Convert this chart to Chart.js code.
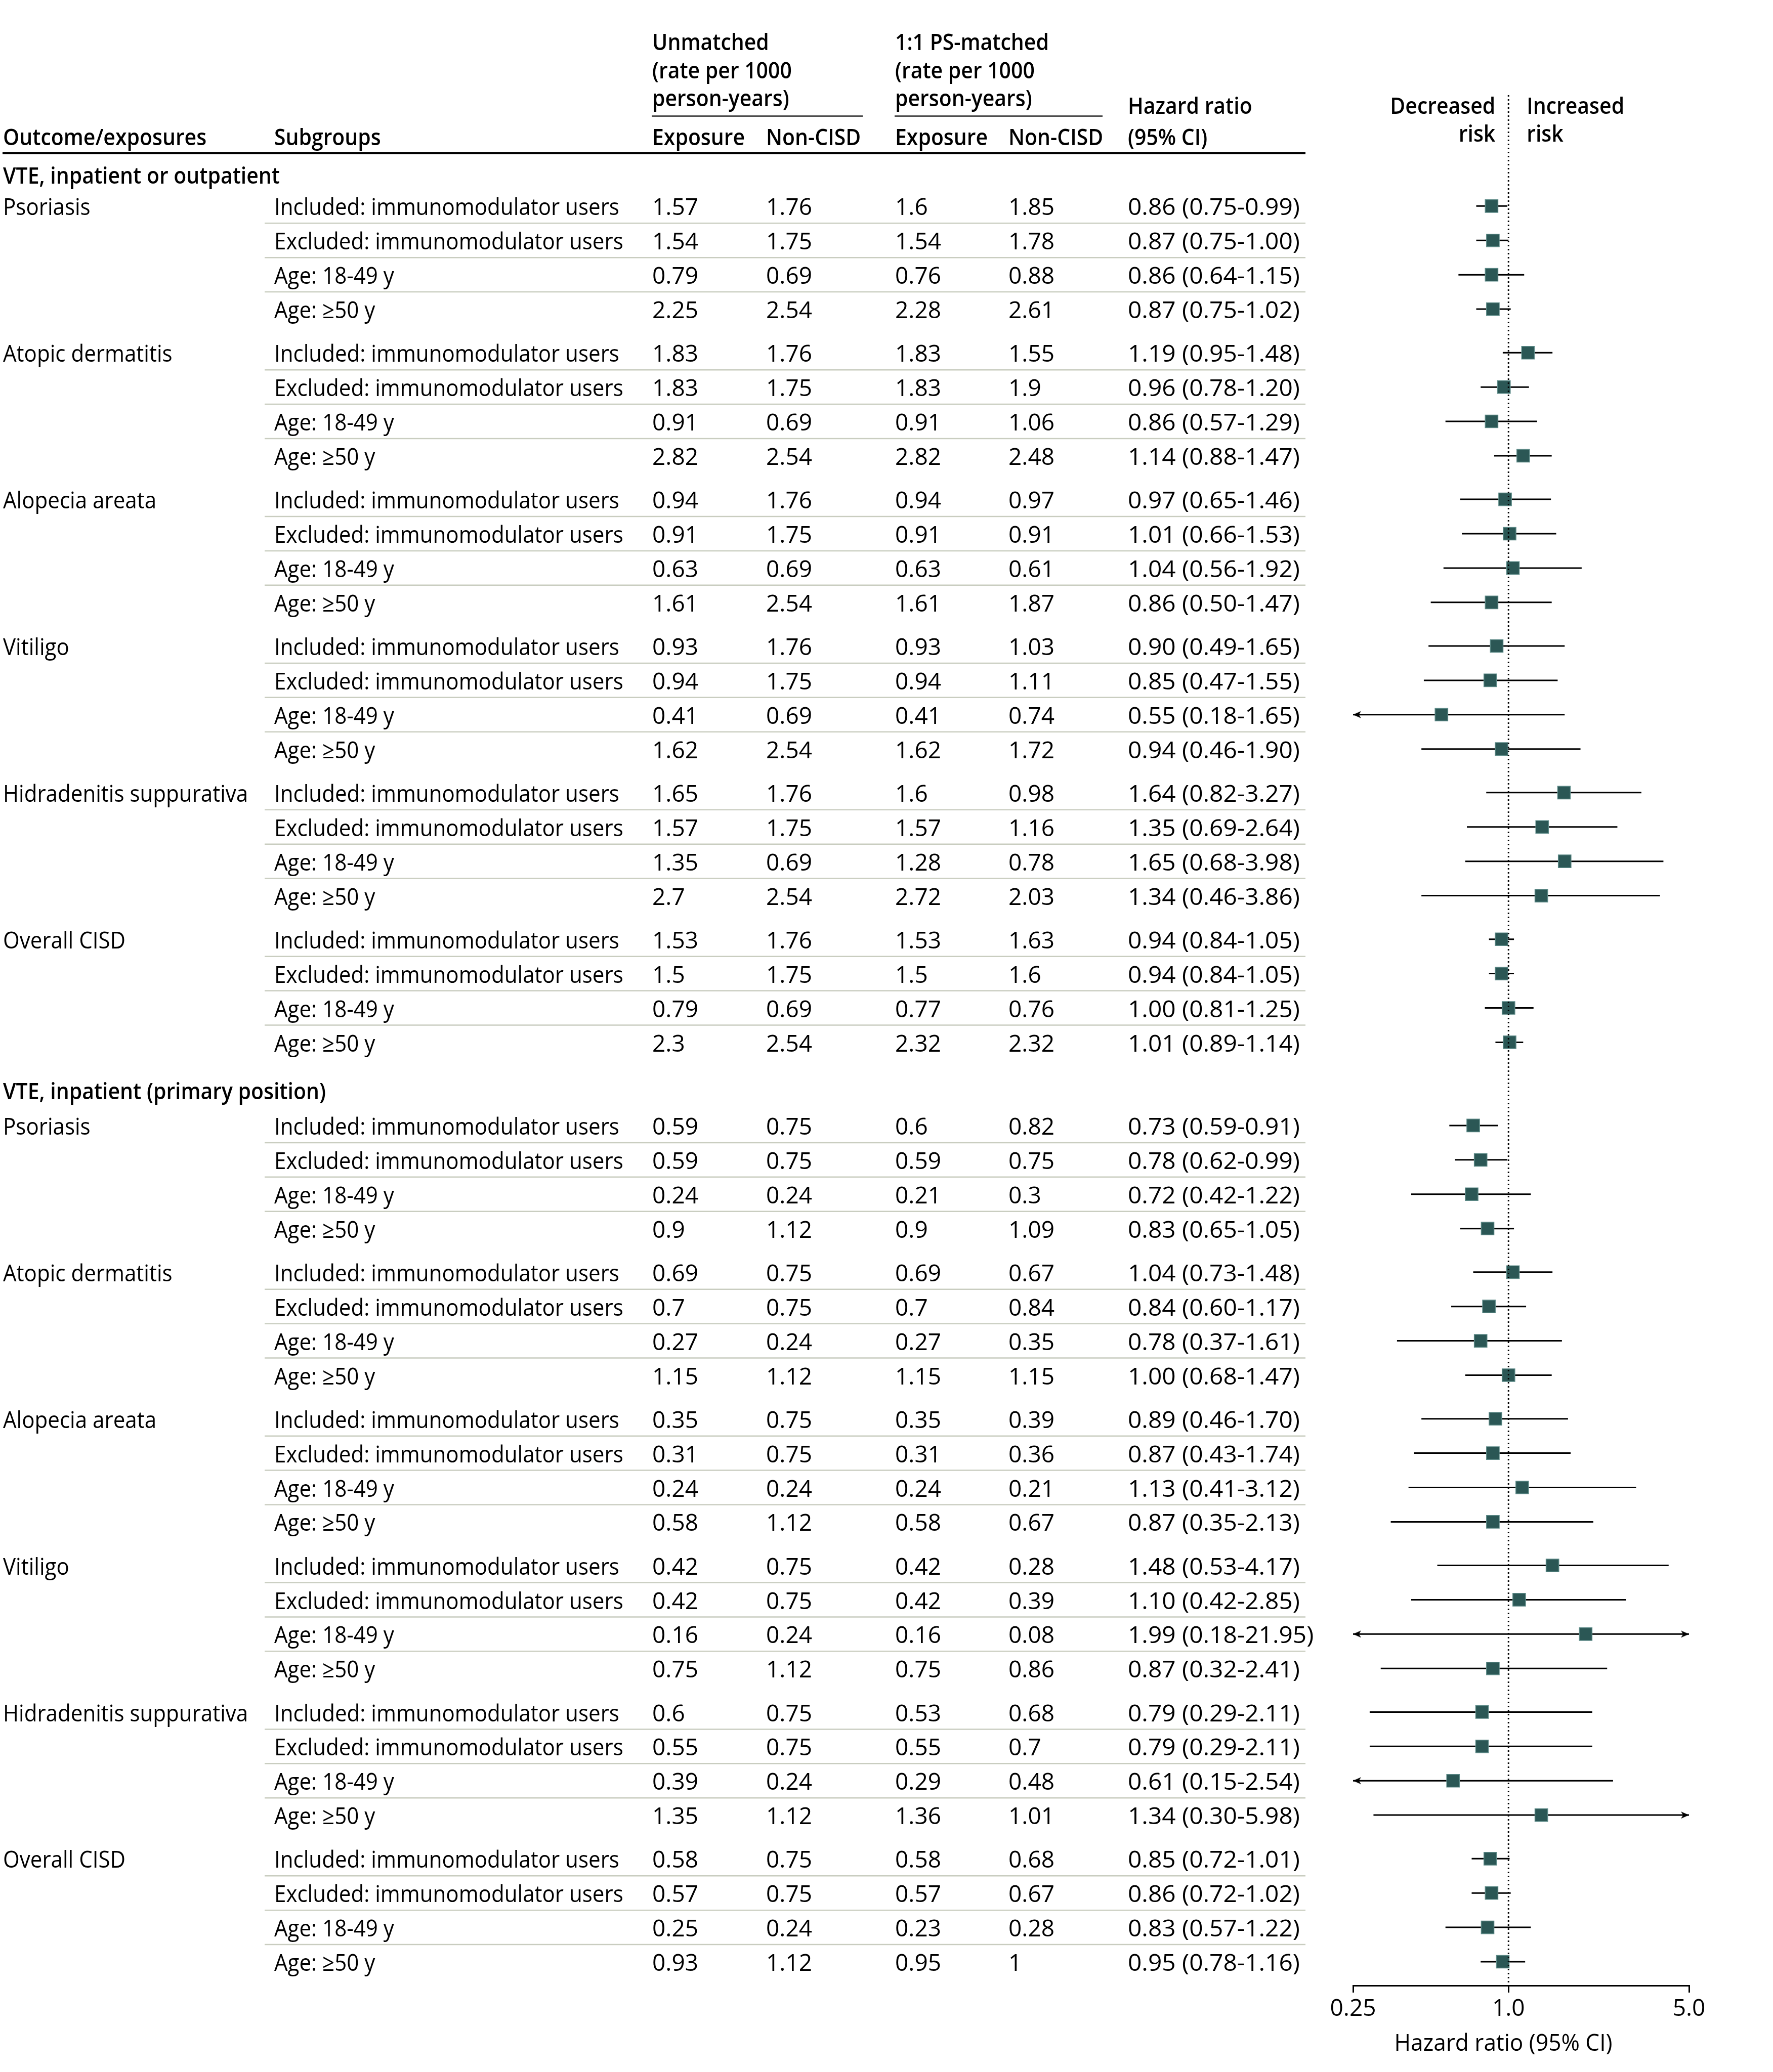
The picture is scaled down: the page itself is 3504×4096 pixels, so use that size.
<!DOCTYPE html>
<html>
<head>
<meta charset="utf-8">
<script src="https://cdn.jsdelivr.net/npm/chart.js@4.4.1/dist/chart.umd.min.js"></script>
<style>
  html, body { margin: 0; padding: 0; background: #fff; }
  canvas { display: block; }
</style>
</head>
<body>
<canvas id="forest" width="3504" height="4096"></canvas>
<script>
// ---- data ----
const sections = ['VTE, inpatient or outpatient', 'VTE, inpatient (primary position)'];
const exposures = ['Psoriasis', 'Atopic dermatitis', 'Alopecia areata', 'Vitiligo', 'Hidradenitis suppurativa', 'Overall CISD'];
const subgroups = ['Included: immunomodulator users', 'Excluded: immunomodulator users', 'Age: 18-49 y', 'Age: ≥50 y'];

// rate per 1000 person-years, 6 exposures x 4 subgroups per section
const unmatchedExposure = [
  1.57, 1.54, 0.79, 2.25,  1.83, 1.83, 0.91, 2.82,  0.94, 0.91, 0.63, 1.61,
  0.93, 0.94, 0.41, 1.62,  1.65, 1.57, 1.35, 2.7,   1.53, 1.5, 0.79, 2.3,
  0.59, 0.59, 0.24, 0.9,   0.69, 0.7, 0.27, 1.15,   0.35, 0.31, 0.24, 0.58,
  0.42, 0.42, 0.16, 0.75,  0.6, 0.55, 0.39, 1.35,   0.58, 0.57, 0.25, 0.93
];
const unmatchedNonCISD = [
  1.76, 1.75, 0.69, 2.54,  1.76, 1.75, 0.69, 2.54,  1.76, 1.75, 0.69, 2.54,
  1.76, 1.75, 0.69, 2.54,  1.76, 1.75, 0.69, 2.54,  1.76, 1.75, 0.69, 2.54,
  0.75, 0.75, 0.24, 1.12,  0.75, 0.75, 0.24, 1.12,  0.75, 0.75, 0.24, 1.12,
  0.75, 0.75, 0.24, 1.12,  0.75, 0.75, 0.24, 1.12,  0.75, 0.75, 0.24, 1.12
];
const matchedExposure = [
  1.6, 1.54, 0.76, 2.28,   1.83, 1.83, 0.91, 2.82,  0.94, 0.91, 0.63, 1.61,
  0.93, 0.94, 0.41, 1.62,  1.6, 1.57, 1.28, 2.72,   1.53, 1.5, 0.77, 2.32,
  0.6, 0.59, 0.21, 0.9,    0.69, 0.7, 0.27, 1.15,   0.35, 0.31, 0.24, 0.58,
  0.42, 0.42, 0.16, 0.75,  0.53, 0.55, 0.29, 1.36,  0.58, 0.57, 0.23, 0.95
];
const matchedNonCISD = [
  1.85, 1.78, 0.88, 2.61,  1.55, 1.9, 1.06, 2.48,   0.97, 0.91, 0.61, 1.87,
  1.03, 1.11, 0.74, 1.72,  0.98, 1.16, 0.78, 2.03,  1.63, 1.6, 0.76, 2.32,
  0.82, 0.75, 0.3, 1.09,   0.67, 0.84, 0.35, 1.15,  0.39, 0.36, 0.21, 0.67,
  0.28, 0.39, 0.08, 0.86,  0.68, 0.7, 0.48, 1.01,   0.68, 0.67, 0.28, 1
];
const hazardRatio = [
  0.86, 0.87, 0.86, 0.87,  1.19, 0.96, 0.86, 1.14,  0.97, 1.01, 1.04, 0.86,
  0.90, 0.85, 0.55, 0.94,  1.64, 1.35, 1.65, 1.34,  0.94, 0.94, 1.00, 1.01,
  0.73, 0.78, 0.72, 0.83,  1.04, 0.84, 0.78, 1.00,  0.89, 0.87, 1.13, 0.87,
  1.48, 1.10, 1.99, 0.87,  0.79, 0.79, 0.61, 1.34,  0.85, 0.86, 0.83, 0.95
];
const ciLow = [
  0.75, 0.75, 0.64, 0.75,  0.95, 0.78, 0.57, 0.88,  0.65, 0.66, 0.56, 0.50,
  0.49, 0.47, 0.18, 0.46,  0.82, 0.69, 0.68, 0.46,  0.84, 0.84, 0.81, 0.89,
  0.59, 0.62, 0.42, 0.65,  0.73, 0.60, 0.37, 0.68,  0.46, 0.43, 0.41, 0.35,
  0.53, 0.42, 0.18, 0.32,  0.29, 0.29, 0.15, 0.30,  0.72, 0.72, 0.57, 0.78
];
const ciHigh = [
  0.99, 1.00, 1.15, 1.02,  1.48, 1.20, 1.29, 1.47,  1.46, 1.53, 1.92, 1.47,
  1.65, 1.55, 1.65, 1.90,  3.27, 2.64, 3.98, 3.86,  1.05, 1.05, 1.25, 1.14,
  0.91, 0.99, 1.22, 1.05,  1.48, 1.17, 1.61, 1.47,  1.70, 1.74, 3.12, 2.13,
  4.17, 2.85, 21.95, 2.41, 2.11, 2.11, 2.54, 5.98,  1.01, 1.02, 1.22, 1.16
];
const tickValues = [0.25, 1, 5];
const tickLabels = ['0.25', '1.0', '5.0'];

// ---- layout ----
const X_MIN = 0.25, X_MAX = 5;
// vertical positions in reference units, measured from the first data row
const ROW_PITCH = 26, GROUP_PITCH = 111, SECTION_PITCH = 696;
const HEAD_OFFSET = [-24, -27];
const Y_MIN = -84, Y_MAX = 1347;

const FONT = '"Open Sans", "Noto Sans", sans-serif';
const REG = '46px ' + FONT;
const BOLD = '600 46px ' + FONT;
// the reference face is narrower for letters than Open Sans
const SX_WORD = 0.915, SX_HEAD = 0.89, SX_NUM = 1.0, SX_HR = 1.04;
const TEXT_DY = 5;
const COL = { outcome: 6, sub: 542, ue: 1289, un: 1514, pe: 1769, pn: 1993, hr: 2229 };

const rows = [];
sections.forEach((sec, s) => {
  exposures.forEach((exp, g) => {
    subgroups.forEach((sub, i) => {
      const k = rows.length;
      rows.push({ s, g, i, exp, sub, k, y: s * SECTION_PITCH + g * GROUP_PITCH + i * ROW_PITCH });
    });
  });
});

// whiskers: one line dataset, broken with null points
const ciPoints = [];
const arrowPoints = [];
rows.forEach(r => {
  ciPoints.push({ x: Math.max(ciLow[r.k], X_MIN), y: r.y });
  ciPoints.push({ x: Math.min(ciHigh[r.k], X_MAX), y: r.y });
  ciPoints.push({ x: null, y: null });
  if (ciLow[r.k] < X_MIN) arrowPoints.push({ x: X_MIN, y: r.y, dir: 'left' });
  if (ciHigh[r.k] > X_MAX) arrowPoints.push({ x: X_MAX, y: r.y, dir: 'right' });
});
const hrPoints = rows.map(r => ({ x: hazardRatio[r.k], y: r.y }));

// arrow head, tip at the centre of the image, pointing right
const arrowImg = document.createElement('canvas');
arrowImg.width = 36; arrowImg.height = 16;
(function () {
  const a = arrowImg.getContext('2d');
  a.fillStyle = '#000';
  a.beginPath();
  a.moveTo(18, 8); a.lineTo(2, 1); a.lineTo(6.5, 8); a.lineTo(2, 15);
  a.closePath(); a.fill();
})();

const tablePlugin = {
  id: 'table',
  afterDraw(chart) {
    const c = chart.ctx;
    const ys = chart.scales.y;
    const py = v => ys.getPixelForValue(v);
    const txt = (t, x, y, font, sx, align) => {
      c.save();
      c.font = font;
      c.textAlign = align || 'left';
      c.translate(x, y + TEXT_DY);
      c.scale(sx, 1);
      c.fillText(t, 0, 0);
      c.restore();
    };
    c.save();
    c.fillStyle = '#000';
    c.textBaseline = 'middle';

    // column headers
    txt('Unmatched', COL.ue, 81, BOLD, SX_HEAD);
    txt('(rate per 1000', COL.ue, 136.5, BOLD, SX_HEAD);
    txt('person-years)', COL.ue, 192, BOLD, SX_HEAD);
    txt('1:1 PS-matched', COL.pe, 81, BOLD, SX_HEAD);
    txt('(rate per 1000', COL.pe, 136.5, BOLD, SX_HEAD);
    txt('person-years)', COL.pe, 192, BOLD, SX_HEAD);
    txt('Outcome/exposures', COL.outcome, 268.5, BOLD, SX_HEAD);
    txt('Subgroups', COL.sub, 268.5, BOLD, SX_HEAD);
    txt('Exposure', COL.ue, 268.5, BOLD, SX_HEAD);
    txt('Non-CISD', COL.un, 268.5, BOLD, SX_HEAD);
    txt('Exposure', COL.pe, 268.5, BOLD, SX_HEAD);
    txt('Non-CISD', COL.pn, 268.5, BOLD, SX_HEAD);
    txt('Hazard ratio', COL.hr, 207, BOLD, SX_HEAD);
    txt('(95% CI)', COL.hr, 268.5, BOLD, SX_HEAD);

    const xs = chart.scales.x;
    const x1 = xs.getPixelForValue(1);
    txt('Decreased', x1 - 26, 207, BOLD, SX_HEAD, 'right');
    txt('risk', x1 - 26, 262, BOLD, SX_HEAD, 'right');
    txt('Increased', x1 + 36, 207, BOLD, SX_HEAD);
    txt('risk', x1 + 36, 262, BOLD, SX_HEAD);

    // rules
    c.strokeStyle = '#222';
    c.lineWidth = 2.5;
    c.beginPath();
    c.moveTo(1288, 229.5); c.lineTo(1705, 229.5);
    c.moveTo(1768, 229.5); c.lineTo(2179, 229.5);
    c.stroke();
    c.strokeStyle = '#000';
    c.lineWidth = 4;
    c.beginPath(); c.moveTo(5, 303); c.lineTo(2580, 303); c.stroke();

    // section headers
    sections.forEach((sec, s) => txt(sec, COL.outcome, py(s * SECTION_PITCH + HEAD_OFFSET[s]), BOLD, SX_HEAD));

    // body rows
    rows.forEach(r => {
      const y = py(r.y);
      if (r.i === 0) txt(r.exp, COL.outcome, y, REG, SX_WORD);
      txt(r.sub, COL.sub, y, REG, SX_WORD);
      txt(String(unmatchedExposure[r.k]), COL.ue, y, REG, SX_NUM);
      txt(String(unmatchedNonCISD[r.k]), COL.un, y, REG, SX_NUM);
      txt(String(matchedExposure[r.k]), COL.pe, y, REG, SX_NUM);
      txt(String(matchedNonCISD[r.k]), COL.pn, y, REG, SX_NUM);
      txt(hazardRatio[r.k].toFixed(2) + ' (' + ciLow[r.k].toFixed(2) + '-' + ciHigh[r.k].toFixed(2) + ')', COL.hr, y, REG, SX_HR);
      if (r.i < subgroups.length - 1) {
        const ly = py(r.y + ROW_PITCH / 2);
        c.strokeStyle = '#c9cdc0';
        c.lineWidth = 2.5;
        c.beginPath(); c.moveTo(523, ly); c.lineTo(2580, ly); c.stroke();
      }
    });

    // axis title
    txt('Hazard ratio (95% CI)', 2971, 4036, REG, 0.96, 'center');
    c.restore();
  }
};

new Chart(document.getElementById('forest'), {
  type: 'scatter',
  data: {
    datasets: [
      {
        type: 'line',
        data: [{ x: 1, y: Y_MIN }, { x: 1, y: Y_MAX }],
        borderColor: '#000', borderWidth: 3, borderDash: [3, 5],
        pointRadius: 0, order: -1, clip: false
      },
      {
        type: 'line',
        data: ciPoints,
        borderColor: '#000', borderWidth: 3, spanGaps: false,
        pointRadius: 0, order: 2, clip: false
      },
      {
        data: arrowPoints,
        pointStyle: arrowImg, pointRadius: 6,
        pointRotation: ctx => (ctx.raw && ctx.raw.dir === 'left' ? 180 : 0),
        order: 1, clip: false
      },
      {
        data: hrPoints,
        pointStyle: 'rect', pointRadius: 17.8,
        backgroundColor: '#2b5755', borderColor: '#5f8c89', borderWidth: 1.5,
        order: 0, clip: false
      }
    ]
  },
  options: {
    responsive: false,
    animation: false,
    devicePixelRatio: 1,
    events: [],
    layout: { padding: { top: 188, bottom: 30, left: 2674, right: 166 } },
    plugins: { legend: { display: false }, tooltip: { enabled: false } },
    scales: {
      x: {
        type: 'logarithmic', min: X_MIN, max: X_MAX, position: 'bottom',
        afterBuildTicks: s => { s.ticks = tickValues.map(v => ({ value: v })); },
        afterFit: s => { s.height = 141; },
        grid: { drawOnChartArea: false, drawTicks: true, tickLength: 14, color: '#000', lineWidth: 3 },
        border: { display: true, color: '#000', width: 3 },
        ticks: {
          color: '#000', padding: 5, maxRotation: 0, autoSkip: false,
          font: { family: FONT, size: 46 },
          callback: (v, i) => tickLabels[i]
        }
      },
      y: { type: 'linear', display: false, reverse: true, min: Y_MIN, max: Y_MAX }
    }
  },
  plugins: [tablePlugin]
});
</script>
</body>
</html>
